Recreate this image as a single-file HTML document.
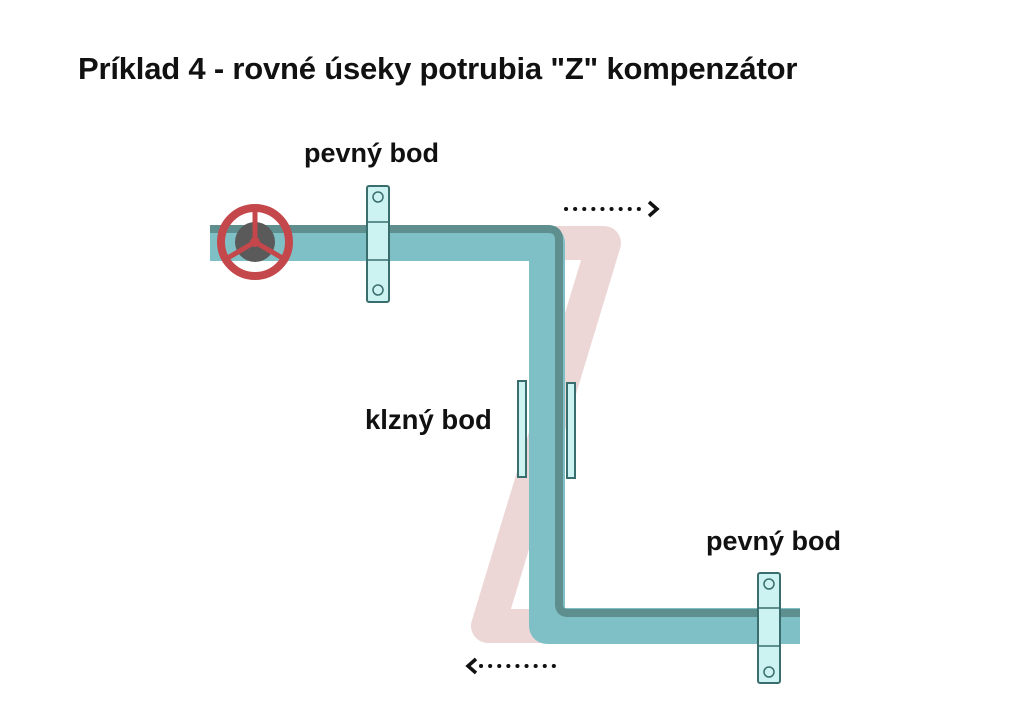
<!DOCTYPE html>
<html><head><meta charset="utf-8"><style>
body{margin:0;width:1030px;height:728px;background:#fff;overflow:hidden;position:relative;font-family:"Liberation Sans",sans-serif}
.t{position:absolute;font-weight:bold;color:#111;white-space:nowrap}
</style></head><body>
<div class="t" style="left:78px;top:51px;font-size:31px;letter-spacing:-0.2px">Príklad 4 - rovné úseky potrubia "Z" kompenzátor</div>
<div class="t" style="left:304px;top:138px;font-size:27px">pevný bod</div>
<div class="t" style="left:365px;top:404px;font-size:27.5px">klzný bod</div>
<div class="t" style="left:706px;top:526px;font-size:27px">pevný bod</div>
<svg width="1030" height="728" style="position:absolute;left:0;top:0">
<path d="M530 243 L604 243 L488 626 L545 626" fill="none" stroke="#e8cccc" stroke-opacity="0.8" stroke-width="34" stroke-linejoin="round"/>
<path d="M210 243 L547 243 L547 626 L800 626" fill="none" stroke="#7fc0c6" stroke-width="36" stroke-linejoin="round"/>
<path d="M210 229 L548 229 Q559 229 559 240 L559 604 Q559 613 568 613 L800 613" fill="none" stroke="#5e8e8e" stroke-width="8" stroke-linejoin="round"/>
<circle cx="255" cy="242" r="20" fill="#5a5a5a"/>
<circle cx="255" cy="242" r="34" fill="none" stroke="#c4474b" stroke-width="8"/>
<path d="M255 208 L255 242 M255 242 L226 259 M255 242 L284 259" stroke="#c4474b" stroke-width="5"/>
<circle cx="255" cy="242" r="5" fill="#c4474b"/>
<g fill="#cdf2f2" stroke="#3a6e6e" stroke-width="2">
<rect x="367" y="186" width="22" height="116" rx="2"/>
<rect x="758" y="573" width="22" height="110" rx="2"/>
<rect x="518" y="381" width="8" height="96"/>
<rect x="567" y="383" width="8" height="95"/>
</g>
<g fill="none" stroke="#3a6e6e" stroke-width="1.5">
<line x1="367" y1="222" x2="389" y2="222"/><line x1="367" y1="260" x2="389" y2="260"/>
<line x1="758" y1="608" x2="780" y2="608"/><line x1="758" y1="646" x2="780" y2="646"/>
<circle cx="378" cy="197" r="5"/><circle cx="378" cy="290" r="5"/>
<circle cx="769" cy="584" r="5"/><circle cx="769" cy="672" r="5"/>
</g>
<line x1="566" y1="209" x2="646" y2="209" stroke="#111" stroke-width="4" stroke-dasharray="0.1 9" stroke-linecap="round"/>
<path d="M649 202 L657 209 L649 216" fill="none" stroke="#111" stroke-width="3.5"/>
<line x1="481" y1="666" x2="561" y2="666" stroke="#111" stroke-width="4" stroke-dasharray="0.1 9" stroke-linecap="round"/>
<path d="M476 659 L468 666 L476 673" fill="none" stroke="#111" stroke-width="3.5"/>
</svg>
</body></html>
